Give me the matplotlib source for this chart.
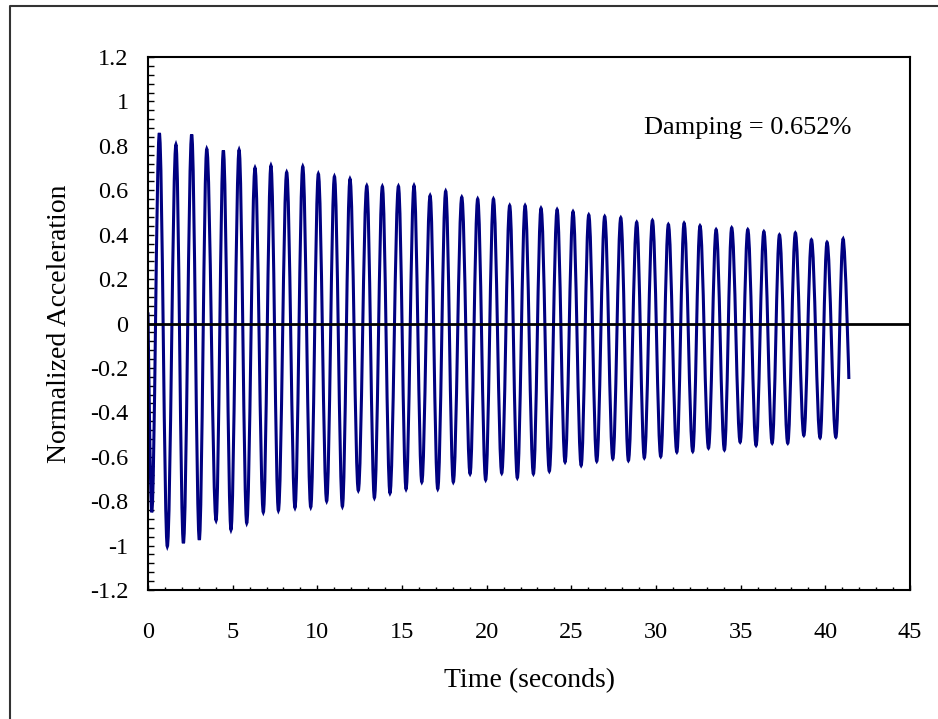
import matplotlib.pyplot as plt
from matplotlib.path import Path
from matplotlib.patches import PathPatch
from matplotlib.lines import Line2D
from matplotlib.ticker import MultipleLocator

plt.rcParams['font.family'] = ['Liberation Serif', 'DejaVu Serif']

# extrema of the free-vibration record
trough_t = [0.22, 1.14, 2.09, 3.03, 4.02, 4.90, 5.83, 6.81, 7.70, 8.68, 9.61,
            10.55, 11.48, 12.42, 13.37, 14.29, 15.24, 16.17, 17.11, 18.03, 19.02,
            19.94, 20.89, 21.81, 22.76, 23.70, 24.63, 25.58, 26.50, 27.45, 28.37,
            29.31, 30.28, 31.23, 32.17, 33.10, 34.04, 34.97, 35.91, 36.86, 37.78,
            38.73, 39.69, 40.62]
trough_a = [-0.850, -1.004, -0.989, -0.974, -0.887, -0.929, -0.899, -0.850, -0.842,
            -0.830, -0.827, -0.800, -0.824, -0.752, -0.785, -0.764, -0.746, -0.714,
            -0.745, -0.714, -0.677, -0.704, -0.674, -0.695, -0.677, -0.665, -0.624,
            -0.639, -0.620, -0.609, -0.617, -0.605, -0.599, -0.579, -0.576, -0.561,
            -0.569, -0.534, -0.549, -0.539, -0.539, -0.504, -0.515, -0.512]
peak_t = [0.67, 1.65, 2.58, 3.47, 4.45, 5.38, 6.32, 7.26, 8.19, 9.14, 10.06,
          11.01, 11.93, 12.92, 13.84, 14.79, 15.71, 16.66, 17.58, 18.53, 19.47,
          20.40, 21.36, 22.27, 23.21, 24.16, 25.10, 26.03, 26.97, 27.92, 28.86,
          29.79, 30.73, 31.66, 32.60, 33.55, 34.47, 35.42, 36.37, 37.29, 38.23,
          39.18, 40.10, 41.05]
peak_a = [0.857, 0.806, 0.851, 0.786, 0.779, 0.782, 0.701, 0.711, 0.681, 0.707,
          0.674, 0.662, 0.651, 0.620, 0.617, 0.618, 0.621, 0.576, 0.596, 0.569,
          0.561, 0.561, 0.531, 0.531, 0.519, 0.513, 0.504, 0.489, 0.482, 0.476,
          0.456, 0.464, 0.446, 0.452, 0.440, 0.423, 0.431, 0.423, 0.414, 0.399,
          0.408, 0.377, 0.366, 0.381]
start_t, start_a = 0.0, 0.05
end_t, end_a = 41.39, -0.25

x_ticks = [0, 5, 10, 15, 20, 25, 30, 35, 40, 45]
y_ticks = [1.2, 1.0, 0.8, 0.6, 0.4, 0.2, 0.0, -0.2, -0.4, -0.6, -0.8, -1.0, -1.2]
y_tick_labels = ['1.2', '1', '0.8', '0.6', '0.4', '0.2', '0',
                 '-0.2', '-0.4', '-0.6', '-0.8', '-1', '-1.2']
note = 'Damping = 0.652%'

# time/value sequence: start, then trough/peak pairs, then the last sample
pts = [(start_t, start_a)]
for i in range(len(peak_t)):
    pts.append((trough_t[i], trough_a[i]))
    pts.append((peak_t[i], peak_a[i]))
pts.append((end_t, end_a))

# smooth curve through the extrema (cubic bezier, flat at each extremum)
k = 0.363
verts = [pts[0]]
codes = [Path.MOVETO]
for i in range(len(pts) - 1):
    (t0, a0), (t1, a1) = pts[i], pts[i + 1]
    dt = t1 - t0
    c0 = (t0, a0) if i == 0 else (t0 + k * dt, a0)
    c1 = (t1, a1) if i == len(pts) - 2 else (t1 - k * dt, a1)
    verts += [c0, c1, (t1, a1)]
    codes += [Path.CURVE4] * 3

fig = plt.figure(figsize=(9.38, 7.19), dpi=100)
ax = fig.add_axes([148/938, 1 - 590/719, 762/938, 533/719])

ax.add_patch(PathPatch(Path(verts, codes), facecolor='none', edgecolor='#000080',
                       lw=2.2, zorder=2))
ax.axhline(0, color='black', lw=2.0, zorder=3)

ax.set_xlim(0, 45)
ax.set_ylim(-1.2, 1.2)
ax.set_xticks(x_ticks)
ax.set_yticks(y_ticks)
ax.set_yticklabels(y_tick_labels)
ax.xaxis.set_minor_locator(MultipleLocator(1))
ax.yaxis.set_minor_locator(MultipleLocator(0.04))
ax.tick_params(axis='x', which='major', direction='in', length=3.6, width=1,
               labelsize=17.5, pad=23)
ax.tick_params(axis='x', which='minor', direction='in', length=2.2, width=1)
ax.tick_params(axis='y', which='both', direction='in', length=4.3, width=1,
               labelsize=17.5, pad=14)
for s in ax.spines.values():
    s.set_linewidth(1.5)

ax.set_xlabel('Time (seconds)', fontsize=20, labelpad=18)
ax.set_ylabel('Normalized Acceleration', fontsize=20, labelpad=13)
ax.text(35.4, 0.88, note, fontsize=19, ha='center', va='center')

# outer chart border (left and top edges are visible)
fig.add_artist(Line2D([10/938, 10/938, 1], [0, 1 - 6/719, 1 - 6/719],
                      transform=fig.transFigure, color='#333333', lw=1.5))

fig.savefig('out.png', dpi=100)
